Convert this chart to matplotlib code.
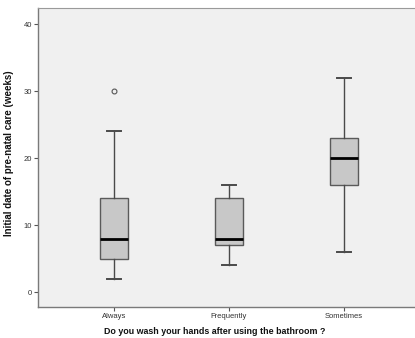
import matplotlib
matplotlib.use('Agg')
import matplotlib.pyplot as plt

# Hand-washing frequency groups and the five-number summaries of
# the initial week of pre-natal care in each group
categories = ["Always", "Frequently", "Sometimes"]
whisker_low = [2, 4, 6]
q1 = [5, 7, 16]
median = [8, 8, 20]
q3 = [14, 14, 23]
whisker_high = [24, 16, 32]
outliers = [[30], [], []]

Y_TICKS = [0, 10, 20, 30, 40]

plt.rcParams['font.family'] = ['Liberation Sans', 'DejaVu Sans']

fig = plt.figure(figsize=(4.15, 3.38), dpi=100)
fig.patch.set_facecolor("white")
ax = fig.add_axes([38 / 415, 1 - 307 / 338, 382 / 415, 299 / 338])
ax.set_facecolor("#f0f0f0")

stats = []
for i, name in enumerate(categories):
    stats.append({
        "label": name,
        "whislo": whisker_low[i],
        "q1": q1[i],
        "med": median[i],
        "q3": q3[i],
        "whishi": whisker_high[i],
        "fliers": outliers[i],
    })

edge = "#4a4a4a"
ax.bxp(stats, positions=[1, 2, 3], widths=0.25, capwidths=0.12,
       patch_artist=True, showfliers=True,
       boxprops={"facecolor": "#c8c8c8", "edgecolor": "#5a5a5a", "linewidth": 1.0},
       medianprops={"color": "black", "linewidth": 2.0},
       whiskerprops={"color": edge, "linewidth": 1.0},
       capprops={"color": edge, "linewidth": 1.4},
       flierprops={"marker": "o", "markersize": 3.5, "markerfacecolor": "none",
                   "markeredgecolor": "#555555", "markeredgewidth": 0.8})

ax.set_xlim(0.339, 3.66)
ax.set_ylim(-2.2, 42.4)
ax.set_yticks(Y_TICKS)
ax.tick_params(axis="both", direction="out", length=3, width=0.8,
               colors="#555555", labelsize=5.5, labelcolor="#333333", pad=1.5)

for side in ["left", "bottom"]:
    ax.spines[side].set_color("#7a7a7a")
    ax.spines[side].set_linewidth(1.0)
ax.spines["top"].set_color("#9a9a9a")
ax.spines["right"].set_visible(False)

ax.set_ylabel("Initial date of pre-natal care (weeks)", fontsize=7,
              fontweight="bold", color="#111111")
ax.set_xlabel("Do you wash your hands after using the bathroom ?", fontsize=6.4,
              fontweight="bold", color="#111111")
ax.yaxis.set_label_coords(-0.062, 0.515)
ax.xaxis.set_label_coords(0.463, -0.068)

fig.savefig("out.png", dpi=100)
